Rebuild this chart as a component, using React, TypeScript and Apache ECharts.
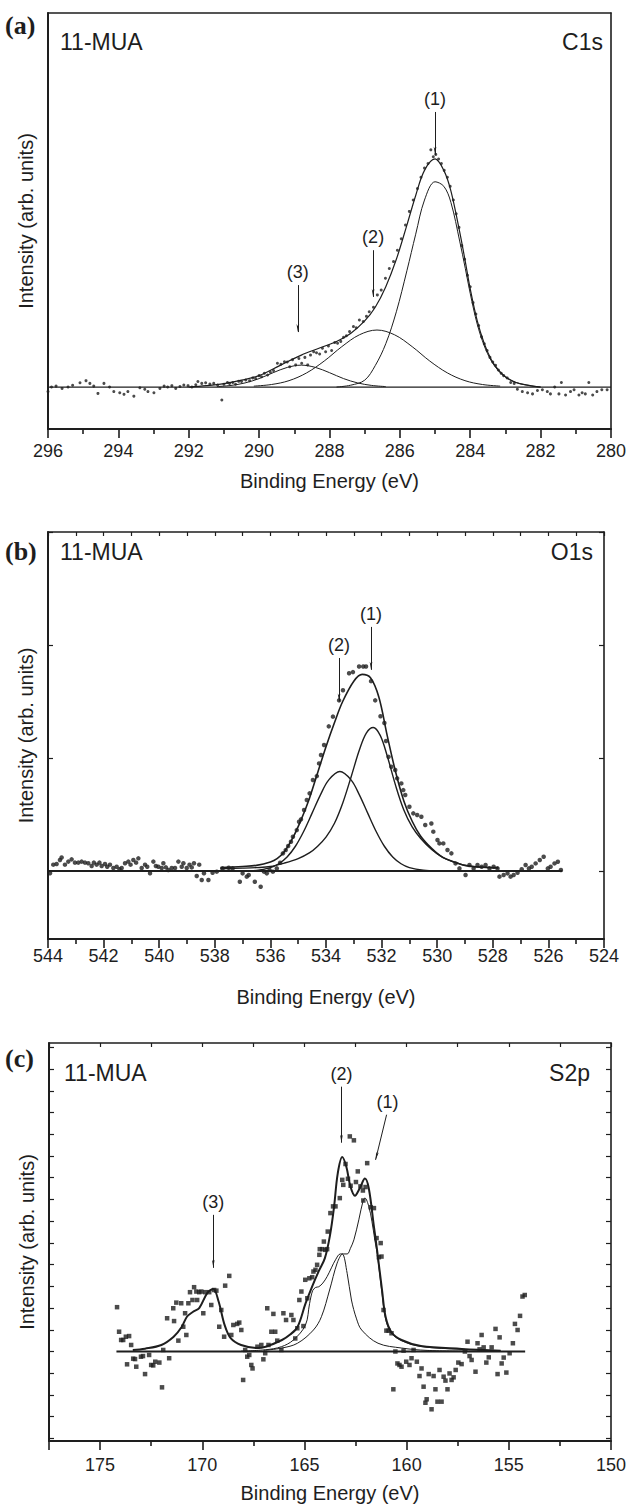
import React, { useEffect, useRef } from "react";
import * as echarts from "echarts";

type P = [number, number];

// ---------- Panel (a) C1s ----------
const aData: P[] = [
  [296.0,-0.02],[295.9,0.0],[295.77,0.004],[295.6,-0.006],[295.43,0.0],[295.3,0.008],[295.09,0.019],[294.92,0.028],[294.81,0.016],[294.7,0.004],
  [294.58,-0.028],[294.41,0.016],[294.25,0.0],[294.13,-0.02],[293.96,-0.025],[293.84,-0.032],[293.73,-0.02],[293.56,-0.04],[293.39,-0.003],[293.25,-0.01],
  [293.16,-0.02],[292.99,-0.025],[292.82,-0.006],[292.7,0.004],[292.6,0.0],[292.48,0.006],[292.37,-0.006],[292.25,0.002],[292.14,0.009],[292.02,0.006],
  [291.91,0.0],[291.8,0.01],[291.74,0.024],[291.63,0.016],[291.52,0.019],[291.4,0.013],[291.29,0.016],[291.18,0.009],[291.06,-0.057],[291.0,0.012],
  [290.9,0.02],[290.84,0.016],[290.75,0.02],[290.67,0.012],[290.58,0.025],[290.5,0.024],[290.38,0.031],[290.27,0.028],[290.18,0.04],[290.1,0.037],
  [290.0,0.05],[289.93,0.045],[289.85,0.06],[289.76,0.053],[289.68,0.065],[289.59,0.072],[289.48,0.104],[289.38,0.1],[289.28,0.111],[289.2,0.11],
  [289.13,0.089],[289.05,0.12],[288.96,0.097],[288.87,0.125],[288.79,0.104],[288.7,0.13],[288.62,0.097],[288.54,0.14],[288.45,0.155],[288.37,0.15],
  [288.28,0.145],[288.2,0.17],[288.11,0.155],[288.03,0.18],[287.94,0.16],[287.85,0.195],[287.77,0.192],[287.68,0.2],[287.6,0.218],[287.52,0.225],
  [287.43,0.243],[287.32,0.265],[287.24,0.26],[287.15,0.294],[287.04,0.287],[286.95,0.31],[286.87,0.33],[286.75,0.35],[286.64,0.404],[286.53,0.425],
  [286.41,0.477],[286.3,0.52],[286.18,0.55],[286.07,0.6],[285.96,0.65],[285.84,0.71],[285.73,0.77],[285.62,0.82],[285.5,0.87],[285.4,0.92],
  [285.3,0.96],[285.2,0.98],[285.12,1.04],[285.05,1.01],[284.98,1.02],[284.9,1.0],[284.82,0.98],[284.74,0.95],[284.65,0.92],[284.57,0.88],
  [284.48,0.82],[284.4,0.76],[284.32,0.7],[284.24,0.62],[284.16,0.56],[284.08,0.49],[284.0,0.44],[283.92,0.37],[283.84,0.32],[283.76,0.27],
  [283.68,0.22],[283.6,0.19],[283.52,0.16],[283.44,0.13],[283.36,0.11],[283.28,0.095],[283.2,0.075],[283.12,0.06],[283.05,0.05],[282.95,0.04],
  [282.85,0.02],[282.75,0.016],[282.66,-0.01],[282.52,-0.02],[282.37,-0.025],[282.23,-0.03],[282.09,-0.015],[281.95,-0.012],[281.81,-0.02],[281.72,-0.03],
  [281.6,0.0],[281.48,-0.03],[281.41,0.02],[281.29,-0.035],[281.15,-0.02],[281.05,-0.012],[280.91,-0.035],[280.82,-0.025],[280.73,-0.03],[280.63,0.02],
  [280.52,-0.035],[280.4,-0.02],[280.26,-0.012],[280.11,-0.012],
];
const aEnvelope: P[] = [
  [292.0,0.0],[291.5,0.006],[291.0,0.015],[290.5,0.03],[290.0,0.05],[289.4,0.095],[288.8,0.14],[288.3,0.17],[287.8,0.2],[287.4,0.235],
  [287.0,0.29],[286.7,0.35],[286.4,0.44],[286.1,0.56],[285.8,0.71],[285.55,0.84],[285.3,0.95],[285.0,1.0],[284.75,0.95],[284.55,0.86],
  [284.3,0.68],[284.14,0.55],[284.0,0.43],[283.8,0.29],[283.6,0.19],[283.4,0.12],[283.2,0.075],[283.0,0.045],[282.7,0.02],[282.3,0.006],[282.0,0.0],
];
const aPeak1: P[] = [
  [287.8,0.0],[287.4,0.008],[287.0,0.03],[286.7,0.094],[286.4,0.19],[286.1,0.33],[285.8,0.51],[285.55,0.67],[285.3,0.82],[285.0,0.9],
  [284.75,0.88],[284.55,0.81],[284.3,0.64],[284.14,0.52],[284.0,0.41],[283.8,0.275],[283.6,0.18],[283.4,0.114],[283.2,0.071],[283.0,0.043],
  [282.7,0.02],[282.3,0.006],[282.0,0.0],
];
const aPeak2: P[] = [
  [290.15,0.004],[289.65,0.011],[289.15,0.028],[288.65,0.062],[288.15,0.114],[287.65,0.177],[287.15,0.229],[286.65,0.25],[286.15,0.229],
  [285.65,0.177],[285.15,0.114],[284.65,0.062],[284.15,0.028],[283.65,0.011],[283.15,0.004],
];
const aPeak3: P[] = [
  [291.2,0.002],[290.8,0.007],[290.4,0.018],[290.0,0.037],[289.6,0.063],[289.2,0.086],[288.8,0.096],[288.4,0.086],[288.0,0.063],
  [287.6,0.037],[287.2,0.018],[286.8,0.007],[286.4,0.002],
];
const aBaseline: P[] = [[296, 0], [280, 0]];
const aArrows = [
  { text: "(1)", from: [285.0, 1.206] as P, to: [285.0, 1.018] as P },
  { text: "(2)", from: [286.76, 0.6] as P, to: [286.76, 0.395] as P },
  { text: "(3)", from: [288.9, 0.447] as P, to: [288.9, 0.241] as P },
];

// ---------- Panel (b) O1s ----------
const bData: P[] = [
  [543.93,-0.02],[543.81,0.056],[543.69,0.062],[543.57,0.097],[543.51,0.12],[543.39,0.056],[543.27,0.083],[543.15,0.103],[543.03,0.074],[542.91,0.074],
  [542.79,0.083],[542.67,0.074],[542.55,0.068],[542.43,0.044],[542.35,0.074],[542.25,0.056],[542.15,0.074],[542.07,0.044],[541.95,0.062],[541.87,0.038],
  [541.77,0.056],[541.65,0.027],[541.53,0.038],[541.43,0.015],[541.35,0.027],[541.23,0.068],[541.11,0.083],[541.03,0.056],[540.93,0.097],[540.83,0.074],
  [540.75,0.112],[540.63,0.027],[540.51,0.056],[540.43,0.038],[540.33,-0.02],[540.21,0.083],[540.12,0.044],[540.03,0.038],[539.91,0.027],[539.85,0.068],
  [539.76,0.032],[539.67,0.009],[539.55,0.027],[539.43,0.027],[539.31,0.083],[539.19,0.038],[539.13,0.068],[539.01,0.027],[538.91,0.056],[538.83,0.032],
  [538.75,0.068],[538.65,-0.044],[538.56,0.056],[538.47,-0.08],[538.39,-0.02],[538.23,-0.08],[538.08,-0.015],[537.93,-0.006],[537.72,0.023],[537.5,0.029],
  [537.36,0.023],[537.1,-0.095],[537.0,-0.021],[536.85,-0.05],[536.78,-0.036],[536.56,-0.095],[536.35,-0.139],[536.23,-0.006],[536.13,-0.021],[536.03,0.009],
  [535.91,-0.006],[535.77,0.023],[535.65,0.073],[535.55,0.156],[535.45,0.185],[535.36,0.221],[535.26,0.259],[535.19,0.303],[535.05,0.362],[534.97,0.436],
  [534.9,0.457],[534.79,0.54],[534.69,0.628],[534.59,0.687],[534.47,0.805],[534.33,0.84],[534.25,0.952],[534.18,1.026],[534.07,1.115],[533.9,1.28],
  [533.75,1.366],[533.53,1.51],[533.39,1.6],[533.17,1.75],[533.03,1.76],[532.81,1.81],[532.66,1.81],[532.56,1.81],[532.38,1.68],[532.23,1.51],
  [532.04,1.37],[531.9,1.31],[531.84,1.15],[531.75,1.01],[531.65,0.923],[531.51,0.894],[531.44,0.82],[531.29,0.775],[531.22,0.716],[531.15,0.672],
  [531.0,0.569],[530.86,0.51],[530.72,0.495],[530.57,0.48],[530.43,0.407],[530.21,0.42],[530.14,0.348],[529.99,0.274],[529.92,0.244],[529.78,0.244],
  [529.63,0.186],[529.49,0.156],[529.34,0.067],[529.2,0.023],[528.98,-0.036],[528.84,0.053],[528.69,0.023],[528.55,0.053],[528.4,0.038],[528.26,0.053],
  [528.12,0.023],[527.97,0.038],[527.83,0.023],[527.76,-0.05],[527.61,-0.036],[527.47,-0.021],[527.36,-0.05],[527.25,-0.036],[527.11,-0.015],[526.96,0.015],
  [526.82,0.053],[526.7,0.023],[526.6,0.038],[526.46,0.067],[526.31,0.097],[526.17,0.126],[526.02,0.023],[525.92,0.038],[525.78,0.067],[525.66,0.082],
  [525.55,0.009],
];
const bEnvelope: P[] = [
  [537.8,0.03],[537.0,0.04],[536.5,0.05],[536.0,0.08],[535.76,0.11],[535.5,0.17],[535.2,0.29],[534.9,0.45],[534.6,0.64],[534.3,0.87],
  [534.0,1.1],[533.7,1.31],[533.4,1.5],[533.0,1.68],[532.7,1.74],[532.4,1.71],[532.1,1.54],[531.8,1.2],[531.5,0.88],[531.2,0.62],
  [530.9,0.44],[530.6,0.31],[530.2,0.2],[529.8,0.12],[529.4,0.08],[529.0,0.05],[528.5,0.035],[527.8,0.03],
];
const bPeak1: P[] = [
  [537.8,0.02],[537.0,0.025],[536.5,0.03],[536.0,0.04],[535.5,0.07],[535.0,0.11],[534.6,0.16],[534.3,0.22],[534.0,0.3],[533.7,0.42],
  [533.4,0.6],[533.1,0.83],[532.8,1.07],[532.55,1.22],[532.3,1.27],[532.05,1.2],[531.8,1.02],[531.5,0.76],[531.2,0.54],[530.9,0.39],
  [530.6,0.29],[530.2,0.19],[529.8,0.12],[529.4,0.08],[529.0,0.05],[528.5,0.035],[527.8,0.025],
];
const bPeak2: P[] = [
  [537.0,0.001],[536.5,0.005],[536.0,0.03],[535.7,0.064],[535.4,0.124],[535.1,0.219],[534.8,0.352],[534.5,0.512],[534.2,0.674],[533.9,0.806],
  [533.5,0.88],[533.1,0.806],[532.8,0.674],[532.5,0.512],[532.2,0.352],[531.9,0.219],[531.6,0.124],[531.3,0.064],[531.0,0.03],[530.5,0.006],[530.0,0.001],
];
const bBaseline: P[] = [[544, 0], [525.5, 0]];
const bArrows = [
  { text: "(1)", from: [532.38, 2.16] as P, to: [532.38, 1.78] as P },
  { text: "(2)", from: [533.53, 1.885] as P, to: [533.53, 1.5] as P },
];

// ---------- Panel (c) S2p ----------
const cData: P[] = [
  [174.17,2.04],[174.07,0.91],[173.97,0.53],[173.87,0.53],[173.74,0.68],[173.68,-0.59],[173.58,0.71],[173.48,0.3],[173.38,-0.33],[173.29,-0.35],
  [173.23,-0.7],[173.0,-0.24],[172.9,-0.21],[172.8,-1.04],[172.6,-0.16],[172.5,-0.62],[172.4,-0.64],[172.3,-0.47],[172.1,-0.51],[171.97,-1.65],
  [171.91,0.07],[171.72,1.53],[171.62,-0.31],[171.42,1.99],[171.38,1.4],[171.27,2.25],[171.17,0.5],[171.03,2.22],[170.93,1.14],[170.84,1.76],
  [170.78,0.76],[170.68,2.22],[170.6,2.73],[170.48,2.37],[170.4,2.96],[170.29,2.76],[170.25,2.37],[170.15,2.73],[170.05,2.76],[169.95,1.76],
  [169.86,2.73],[169.66,2.73],[169.56,2.14],[169.42,2.83],[169.31,2.8],[169.17,1.14],[169.07,1.91],[168.93,0.68],[168.88,3.03],[168.68,3.48],
  [168.58,0.76],[168.48,1.22],[168.29,1.27],[168.19,1.33],[168.09,0.99],[168.0,-1.31],[167.9,0.07],[167.8,-0.24],[167.7,-0.16],[167.6,-0.62],
  [167.54,-0.78],[167.3,0.22],[167.11,0.3],[167.01,-0.36],[166.92,-0.08],[166.82,1.99],[166.76,0.3],[166.62,0.91],[166.52,1.73],[166.43,0.91],
  [166.33,0.5],[166.13,0.07],[166.03,1.76],[165.9,1.45],[165.64,1.68],[165.54,1.45],[165.45,0.6],[165.35,1.07],[165.25,2.37],[165.15,2.76],
  [165.05,1.17],[164.96,3.3],[164.86,2.45],[164.76,3.37],[164.62,3.42],[164.56,3.68],[164.46,3.76],[164.38,3.99],[164.27,4.45],[164.25,4.71],
  [164.13,4.71],[164.05,5.06],[163.98,4.68],[163.89,4.71],[163.86,5.52],[163.73,6.37],[163.6,6.68],[163.48,6.68],[163.27,7.06],[163.15,7.9],
  [163.1,7.67],[162.99,8.63],[162.87,7.95],[162.78,9.9],[162.74,7.63],[162.58,9.72],[162.48,7.8],[162.39,8.29],[162.26,7.6],[162.14,7.41],
  [162.12,6.95],[162.01,7.57],[161.93,8.67],[161.76,6.64],[161.6,6.6],[161.47,5.22],[161.36,4.34],[161.27,4.99],[161.23,4.37],[161.13,1.91],
  [160.99,0.96],[160.88,0.96],[160.74,0.84],[160.65,-1.74],[160.55,0.0],[160.45,-0.55],[160.35,-0.62],[160.25,-0.7],[160.15,0.04],[160.02,-0.47],
  [159.86,-0.62],[159.76,-0.31],[159.66,0.07],[159.5,-0.47],[159.37,-1.13],[159.27,-0.78],[159.17,-1.62],[159.08,-2.36],[159.02,-2.2],[158.92,-1.04],
  [158.78,-2.66],[158.68,-1.13],[158.59,-1.74],[158.49,-2.31],[158.39,-0.85],[158.29,-2.31],[158.19,-1.16],[158.1,-1.34],[158.0,-1.74],[157.9,-1.01],
  [157.8,-1.31],[157.7,-1.19],[157.6,-0.85],[157.47,-0.51],[157.31,-0.58],[157.15,0.0],[157.02,0.45],[156.92,-0.21],[156.82,-0.39],[156.63,-0.93],
  [156.53,0.38],[156.43,0.1],[156.33,0.76],[156.23,0.19],[156.1,-0.51],[155.98,-0.27],[155.84,0.19],[155.65,1.04],[155.55,-1.04],[155.45,0.65],
  [155.35,-0.55],[155.25,-0.28],[155.12,-0.97],[154.96,-0.08],[154.8,0.38],[154.7,1.27],[154.57,0.99],[154.45,1.64],[154.33,2.53],[154.22,2.6],
];
const cEnvelope: P[] = [
  [173.4,0.07],[172.8,0.13],[172.0,0.3],[171.4,0.68],[171.0,1.14],[170.75,1.6],[170.45,1.83],[170.15,2.0],[169.75,2.7],[169.46,2.88],
  [169.2,2.3],[168.9,1.2],[168.6,0.6],[168.1,0.3],[167.3,0.16],[166.9,0.22],[166.1,0.53],[165.7,0.78],[165.34,1.13],[164.95,2.2],
  [164.62,3.0],[164.3,3.7],[164.0,4.3],[163.75,5.35],[163.55,6.67],[163.37,8.2],[163.15,8.95],[162.95,8.5],[162.75,7.6],[162.53,7.17],
  [162.3,7.5],[162.04,7.96],[161.85,7.5],[161.6,5.75],[161.45,4.7],[161.2,2.8],[161.03,1.6],[160.75,0.9],[160.25,0.53],[159.3,0.25],
  [157.3,0.12],[155.4,0.04],
];
const cCurveB: P[] = [
  [168.1,0.02],[166.9,0.08],[166.13,0.22],[165.54,0.53],[164.95,1.22],[164.75,2.2],[164.6,2.8],[164.45,2.95],[164.3,2.98],[164.1,3.15],
  [163.89,3.45],[163.68,3.85],[163.48,4.22],[163.24,4.49],[162.91,4.49],[162.75,4.75],[162.58,5.14],[162.34,6.06],[162.12,6.98],[162.04,7.06],
  [161.85,6.67],[161.7,6.0],[161.55,5.1],[161.44,4.5],[161.2,2.65],[161.03,1.5],[160.75,0.85],[160.25,0.5],[159.3,0.23],[157.3,0.1],[155.4,0.03],
];
const cCurveC: P[] = [
  [167.0,0.05],[166.1,0.16],[165.34,0.38],[164.56,0.99],[164.17,1.6],[163.77,2.83],[163.4,4.07],[163.15,4.49],[162.91,3.6],[162.7,2.37],
  [162.45,1.5],[162.2,0.99],[161.4,0.38],[160.25,0.16],[159.0,0.05],[157.0,0.02],
];
const cBaseline: P[] = [[174.2, 0], [154.2, 0]];
const cArrows = [
  { text: "(2)", from: [163.19, 12.19] as P, to: [163.19, 9.61] as P },
  { text: "(1)", from: [160.98, 10.9] as P, to: [161.52, 8.82] as P },
  { text: "(3)", from: [169.46, 6.29] as P, to: [169.46, 3.85] as P },
];

const xTitle = "Binding Energy (eV)";
const yTitle = "Intensity (arb. units)";
const sample = "11-MUA";
const regions = ["C1s", "O1s", "S2p"];
const letters = ["(a)", "(b)", "(c)"];

const INK = "#1e1e1e";
const FONT = '"Liberation Sans", Arial, Helvetica, sans-serif';

function bottomX(gi: number, min: number, max: number, interval: number, margin: number, nameGap: number, fmt?: (v: number) => string) {
  return {
    type: "value", gridIndex: gi, position: "bottom", min, max, interval, inverse: true,
    axisLine: { show: true, onZero: false, lineStyle: { color: INK, width: 2 } },
    axisTick: { show: true, inside: false, length: 9, lineStyle: { color: INK, width: 1.6 } },
    minorTick: { show: true, splitNumber: 2, length: 5, lineStyle: { color: INK, width: 1.6 } },
    axisLabel: { show: true, margin, fontSize: 18, fontFamily: FONT, color: INK, formatter: fmt },
    splitLine: { show: false }, minorSplitLine: { show: false },
    name: xTitle, nameLocation: "middle", nameGap,
    nameTextStyle: { fontSize: 20, fontFamily: FONT, color: INK },
  };
}
function topX(gi: number, min: number, max: number, interval: number, ticks: boolean) {
  return {
    type: "value", gridIndex: gi, position: "top", min, max, interval, inverse: true,
    axisLine: { show: true, onZero: false, lineStyle: { color: INK, width: 1.6 } },
    axisTick: { show: ticks, inside: true, length: 4, lineStyle: { color: INK, width: 1.2 } },
    minorTick: { show: ticks, splitNumber: 2, length: 4, lineStyle: { color: INK, width: 1.2 } },
    axisLabel: { show: false }, splitLine: { show: false },
  };
}
function yAx(gi: number, pos: "left" | "right", min: number, max: number, ticks: number[], withName: boolean) {
  return {
    type: "value", gridIndex: gi, position: pos, min, max,
    axisLine: { show: true, onZero: false, lineStyle: { color: INK, width: pos === "left" ? 2 : 1.6 } },
    axisTick: { show: ticks.length > 0, inside: true, length: 5, customValues: ticks, lineStyle: { color: INK, width: 1.2 } },
    axisLabel: { show: false }, splitLine: { show: false },
    ...(withName ? { name: yTitle, nameLocation: "middle", nameGap: 12, nameTextStyle: { fontSize: 20, fontFamily: FONT, color: INK } } : {}),
  };
}
function dots(gi: number, data: P[], symbol: string, size: number) {
  return { type: "scatter", xAxisIndex: 2 * gi, yAxisIndex: 2 * gi, data, symbol, symbolSize: size, itemStyle: { color: INK }, silent: true, z: 3 };
}
function curve(gi: number, data: P[], width: number, extra: any = {}) {
  return {
    type: "line", xAxisIndex: 2 * gi, yAxisIndex: 2 * gi, data, showSymbol: false, symbol: "none",
    smooth: 0.35, lineStyle: { width, color: INK }, silent: true, z: 2, ...extra,
  };
}
function arrowMarks(list: { text: string; from: P; to: P }[]) {
  return {
    markLine: {
      silent: true, animation: false, symbol: ["none", "arrow"], symbolSize: [2, 8], precision: 3,
      lineStyle: { color: INK, width: 1, type: "solid" },
      label: { show: true, position: "start", formatter: "{b}", fontSize: 18, fontFamily: FONT, color: INK, distance: 4 },
      emphasis: { disabled: true },
      data: list.map((a) => [{ coord: a.from, name: a.text }, { coord: a.to }]),
    },
  };
}

const grids = [
  { left: 48, top: 13, width: 566, height: 416 },
  { left: 48, top: 532, width: 556, height: 407 },
  { left: 49, top: 1043, width: 562, height: 398 },
];
const cTicks = [-4, -3, -2, -1, 0, 1, 2, 3, 4, 5, 6, 7, 8, 9, 10, 11, 12, 13, 14];

const option: any = {
  animation: false,
  backgroundColor: "#ffffff",
  grid: grids.map((g) => ({ ...g, containLabel: false })),
  xAxis: [
    bottomX(0, 280, 296, 2, 13, 42),
    topX(0, 280, 296, 2, false),
    bottomX(1, 524, 544, 2, 8, 48),
    topX(1, 524, 544, 2, true),
    bottomX(2, 150, 177.5, 5, 15, 42, (v: number) => (v % 5 === 0 ? String(v) : "")),
    topX(2, 150, 177.5, 5, true),
  ],
  yAxis: [
    yAx(0, "left", -0.184, 1.64, [], true),
    yAx(0, "right", -0.184, 1.64, [], false),
    yAx(1, "left", -0.6018, 3.0, [0, 1, 2, 3], true),
    yAx(1, "right", -0.6018, 3.0, [0, 1, 2, 3], false),
    yAx(2, "left", -4.12, 14.2, cTicks, true),
    yAx(2, "right", -4.12, 14.2, cTicks, false),
  ],
  graphic: [
    ...letters.map((t, i) => ({
      type: "text", x: 5, y: [25, 551, 1058][i],
      style: { text: t, font: 'bold 26px "Liberation Serif", "Times New Roman", serif', fill: INK, verticalAlign: "middle", textVerticalAlign: "middle" },
    })),
    ...[0, 1, 2].map((i) => ({
      type: "text", x: [60, 60, 64][i], y: [42, 552, 1073][i],
      style: { text: sample, font: `23px ${FONT}`, fill: INK, verticalAlign: "middle", textVerticalAlign: "middle" },
    })),
    ...regions.map((t, i) => ({
      type: "text", x: [603, 593, 590][i], y: [42, 552, 1073][i],
      style: { text: t, font: `23px ${FONT}`, fill: INK, align: "right", textAlign: "right", verticalAlign: "middle", textVerticalAlign: "middle" },
    })),
  ],
  series: [
    dots(0, aData, "circle", 3),
    curve(0, aEnvelope, 1.2),
    curve(0, aPeak1, 1),
    curve(0, aPeak2, 1),
    curve(0, aPeak3, 1),
    curve(0, aBaseline, 1.3, { smooth: false, ...arrowMarks(aArrows) }),

    dots(1, bData, "circle", 4.5),
    curve(1, bEnvelope, 1.6),
    curve(1, bPeak1, 1.4),
    curve(1, bPeak2, 1.4),
    curve(1, bBaseline, 2, { smooth: false, ...arrowMarks(bArrows) }),

    dots(2, cData, "rect", 4.5),
    curve(2, cEnvelope, 2),
    curve(2, cCurveB, 1),
    curve(2, cCurveC, 1),
    curve(2, cBaseline, 2, { smooth: false, ...arrowMarks(cArrows) }),
  ],
};

export default function App() {
  const ref = useRef<HTMLDivElement>(null);
  useEffect(() => {
    if (!ref.current) return;
    const chart = echarts.init(ref.current, undefined, { renderer: "svg" });
    chart.setOption(option);
    return () => chart.dispose();
  }, []);
  return (
    <div
      ref={ref}
      style={{ position: "absolute", left: 0, top: 0, width: 629, height: 1509, background: "#fff" }}
    />
  );
}
